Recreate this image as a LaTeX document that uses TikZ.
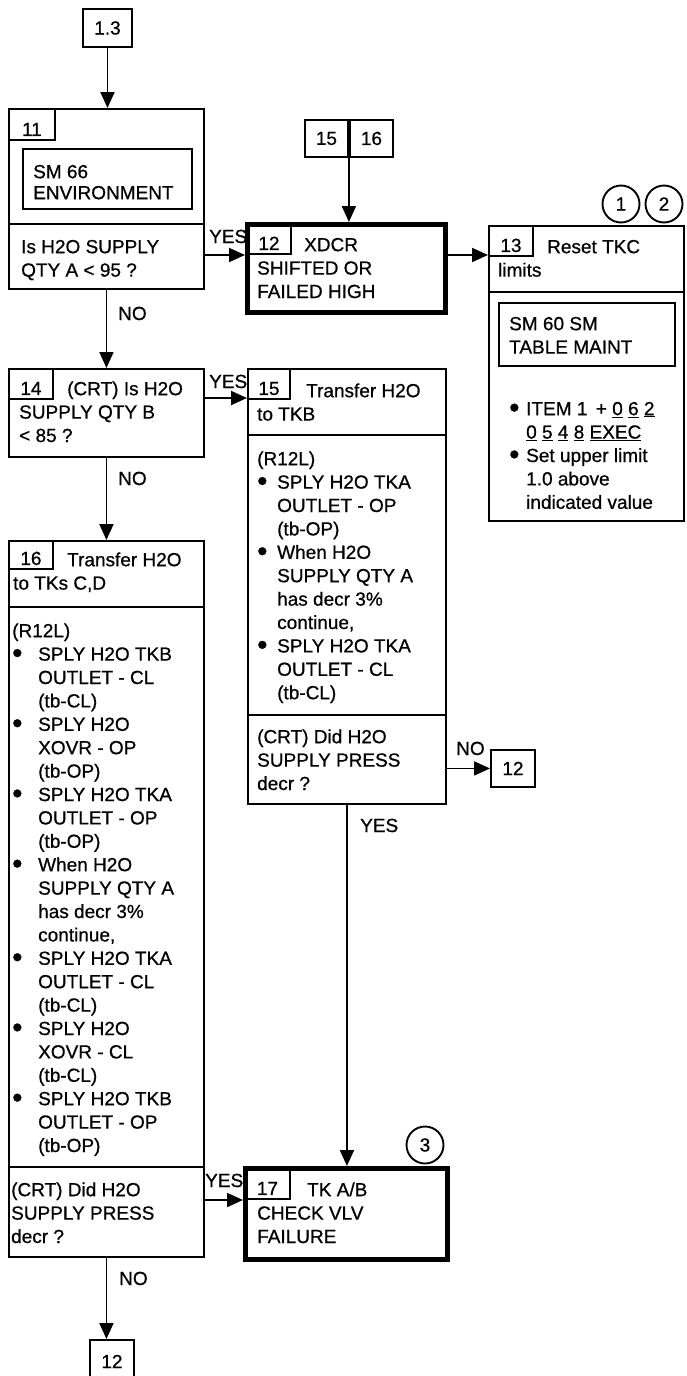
\documentclass[tikz,border=0pt]{standalone}
\usepackage{fontspec}
\usepackage{graphicx}
\setmainfont{Liberation Sans}[FakeBold=0.7]
\usetikzlibrary{arrows.meta}
\newcommand\st{\rule{0pt}{16pt}}
\newcommand\bul[1][20pt]{\makebox[#1][l]{\raisebox{-2.2pt}{\scalebox{1.55}{\textbullet}}}}
\newcommand\ind[1][20pt]{\makebox[#1]{}}
\begin{document}
\begin{tikzpicture}[x=1pt,y=-1pt,
  ln/.style={line width=1.9pt},
  fnt/.style={font=\fontsize{19pt}{23.4pt}\selectfont},
  box/.style={draw, ln, inner sep=0pt, anchor=north west},
  tbox/.style={draw, line width=5pt, inner sep=0pt, anchor=north west},
  tab/.style 2 args={draw, ln, fnt, inner sep=0pt, anchor=north west, minimum width=#1, text height=#2, text depth=4pt},
  ref/.style={draw, ln, fnt, inner sep=0pt},
  txt/.style={fnt, align=left, inner sep=0pt, anchor=north west},
  lbl/.style={fnt, inner sep=0pt, anchor=base west},
  circ/.style={draw, ln, circle, minimum size=37pt, inner sep=0pt, fnt},
  arr/.style={draw, ln, -{Triangle[length=16pt,width=14pt]}}
]
\useasboundingbox (0,0) rectangle (686,1376);
% entry
\node[ref, minimum width=49pt, minimum height=38pt] (n13) at (107.5,28) {1.3};
% box 11
\node[box, minimum width=195pt, minimum height=180pt] (b11) at (8,108) {};
\node[tab={46pt}{27pt}] (t11) at (8,108) {11};
\node[box, minimum width=169pt, minimum height=60pt] (s11) at (22,148) {};
\node[txt] (x11a) at (33,162) {\st SM 66\\[-2.4pt]ENVIRONMENT};
\draw[ln] (8,224) -- (205,224);
\node[txt] (x11b) at (21,237) {\st Is H2O SUPPLY\\QTY A < 95 ?};
% box 12
\node[tbox, minimum width=198pt, minimum height=88pt] (b12) at (245,222) {};
\node[tab={44pt}{26pt}] (t12) at (246,223) {12};
\node[txt] (x12) at (257,235) {\st\hspace*{47pt}XDCR\\SHIFTED OR\\FAILED HIGH};
% 15 16 reference
\node[ref, minimum width=43pt, minimum height=37pt, anchor=north west] (n15) at (304,119) {15};
\node[ref, minimum width=43pt, minimum height=37pt, anchor=north west] (n16) at (349,119) {16};
% box 13
\node[box, minimum width=195pt, minimum height=295pt] (b13) at (488,225) {};
\node[tab={44pt}{26pt}] (t13) at (488,225) {13};
\node[txt] (x13a) at (498,237) {\st\hspace*{49pt}Reset TKC\\limits};
\draw[ln] (488,292) -- (684,292);
\node[box, minimum width=176pt, minimum height=63pt] (s13) at (498,302) {};
\node[txt] (x13b) at (509,314) {\st SM 60 SM\\TABLE MAINT};
\node[txt] (x13c) at (509,399) {\st\bul[17pt]ITEM 1 \,+ \underline{0} \underline{6} \underline{2}\\
\ind[17pt]\underline{0} \underline{5} \underline{4} \underline{8} \underline{EXEC}\\
\bul[17pt]Set upper limit\\
\ind[17pt]1.0 above\\
\ind[17pt]indicated value};
\node[circ] (c1) at (621,204) {1};
\node[circ] (c2) at (664,204) {2};
% box 14
\node[box, minimum width=195pt, minimum height=88pt] (b14) at (8,368) {};
\node[tab={44pt}{26pt}] (t14) at (8,368) {14};
\node[txt] (x14) at (19,379) {\st\hspace*{48pt}(CRT) Is H2O\\SUPPLY QTY B\\< 85 ?};
% box 15
\node[box, minimum width=198pt, minimum height=435pt] (b15) at (247,368) {};
\node[tab={42pt}{26pt}] (t15) at (247,368) {15};
\node[txt] (x15a) at (257,381) {\st\hspace*{49pt}Transfer H2O\\to TKB};
\draw[ln] (247,435) -- (447,435);
\node[txt] (x15b) at (257,449) {\st(R12L)\\
\bul SPLY H2O TKA\\
\ind OUTLET - OP\\
\ind (tb-OP)\\
\bul When H2O\\
\ind SUPPLY QTY A\\
\ind has decr 3\%\\
\ind continue,\\
\bul SPLY H2O TKA\\
\ind OUTLET - CL\\
\ind (tb-CL)};
\draw[ln] (247,715) -- (447,715);
\node[txt] (x15c) at (257,727) {\st(CRT) Did H2O\\SUPPLY PRESS\\decr ?};
\node[ref, minimum width=44pt, minimum height=37pt, anchor=north west] (r12a) at (490,749) {12};
% box 16
\node[box, minimum width=195pt, minimum height=716pt] (b16) at (8,540) {};
\node[tab={44pt}{24pt}] (t16) at (8,540) {16};
\node[txt] (x16a) at (13,550) {\st\hspace*{54pt}Transfer H2O\\to TKs C,D};
\draw[ln] (8,607) -- (205,607);
\node[txt] (x16b) at (12,621) {\st(R12L)\\
\bul[26pt]SPLY H2O TKB\\
\ind[26pt]OUTLET - CL\\
\ind[26pt](tb-CL)\\
\bul[26pt]SPLY H2O\\
\ind[26pt]XOVR - OP\\
\ind[26pt](tb-OP)\\
\bul[26pt]SPLY H2O TKA\\
\ind[26pt]OUTLET - OP\\
\ind[26pt](tb-OP)\\
\bul[26pt]When H2O\\
\ind[26pt]SUPPLY QTY A\\
\ind[26pt]has decr 3\%\\
\ind[26pt]continue,\\
\bul[26pt]SPLY H2O TKA\\
\ind[26pt]OUTLET - CL\\
\ind[26pt](tb-CL)\\
\bul[26pt]SPLY H2O\\
\ind[26pt]XOVR - CL\\
\ind[26pt](tb-CL)\\
\bul[26pt]SPLY H2O TKB\\
\ind[26pt]OUTLET - OP\\
\ind[26pt](tb-OP)};
\draw[ln] (8,1167) -- (205,1167);
\node[txt] (x16c) at (11,1180) {\st(CRT) Did H2O\\SUPPLY PRESS\\decr ?};
% box 17
\node[tbox, minimum width=202pt, minimum height=91pt] (b17) at (243,1166) {};
\node[tab={45pt}{27pt}] (t17) at (244,1167) {17};
\node[txt] (x17) at (257,1180) {\st\hspace*{50pt}TK A/B\\CHECK VLV\\FAILURE};
\node[circ] (c3) at (425,1145) {3};
\node[ref, minimum width=44pt, minimum height=43pt, anchor=north west] (r12b) at (89,1339) {12};
% labels
\node[lbl] (l1) at (209,243) {YES};
\node[lbl] (l2) at (118,320) {NO};
\node[lbl] (l3) at (209,388) {YES};
\node[lbl] (l4) at (118,485) {NO};
\node[lbl] (l5) at (456,755) {NO};
\node[lbl] (l6) at (360,832) {YES};
\node[lbl] (l7) at (205,1187) {YES};
\node[lbl] (l8) at (119,1285) {NO};
% connectors
\coordinate (y1) at (0,255);
\coordinate (y2) at (0,398);
\coordinate (y3) at (0,1200);
\draw[arr] (n13.south) -- (n13.south |- b11.north);
\draw[arr] (b11.east |- y1) -- (b12.west |- y1);
\draw[arr] (n15.south east) -- (n15.south east |- b12.north);
\draw[arr] (b12.east |- y1) -- (b13.west |- y1);
\draw[arr] (b11.south) -- (b14.north);
\draw[arr] (b14.east |- y2) -- (b15.west |- y2);
\draw[arr] (b14.south) -- (b16.north);
\draw[arr] (b15.east |- r12a.west) -- (r12a.west);
\draw[arr] (b15.south) -- (b15.south |- b17.north);
\draw[arr] (b16.east |- y3) -- (b17.west |- y3);
\draw[arr] (b16.south) -- (b16.south |- r12b.north);
\end{tikzpicture}
\end{document}
